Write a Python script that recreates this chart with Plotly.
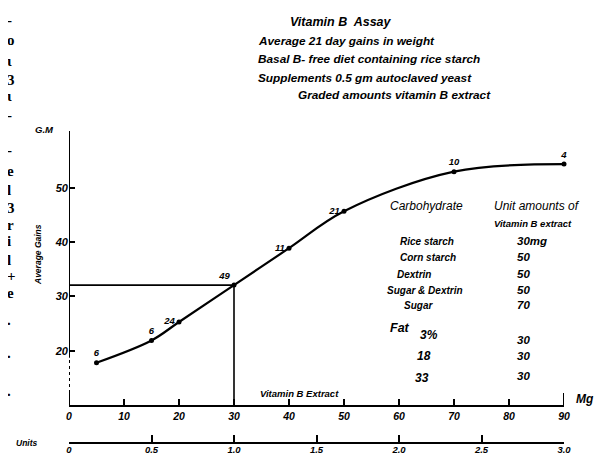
import plotly.graph_objects as go

# ---- data ----
vitamin_mg = [5, 15, 20, 30, 40, 50, 70, 90]
avg_gain_g = [17.8, 21.9, 25.3, 32.1, 38.9, 45.7, 53.0, 54.4]
rats_per_group = ["6", "6", "24", "49", "11", "21", "10", "4"]

mg_ticks = [0, 10, 20, 30, 40, 50, 60, 70, 80, 90]
unit_ticks = [0, 0.5, 1.0, 1.5, 2.0, 2.5, 3.0]
unit_labels = ["0", "0.5", "1.0", "1.5", "2.0", "2.5", "3.0"]
gain_ticks = [20, 30, 40, 50]

title_lines = [
    "Average 21 day gains in weight",
    "Basal B- free diet containing rice starch",
    "Supplements 0.5 gm autoclaved yeast",
]
subtitle_last = "Graded amounts vitamin B extract"

carbohydrates = ["Rice starch", "Corn starch", "Dextrin", "Sugar & Dextrin", "Sugar"]
carb_units = ["30mg", "50", "50", "50", "70"]
fat_levels = ["3%", "18", "33"]
fat_units = ["30", "30", "30"]

scan_edge_chars = ["-", "o", "ɩ", "3", "ɩ", "-", "-", "e", "l", "3", "r", "i", "l", "+", "e", ".", ".", "."]

# ---- layout geometry (pixels) ----
W, H = 606, 456
L, R, T, B = 61, 50, 123, 21
X_AX_PX = 397            # pixel row of the mg axis
Y_MIN, Y_MAX = 10, 60.5
X_MIN, X_MAX = 0, 90
plot_w = W - L - R
plot_h = H - T - B
dom_bottom = (H - B - X_AX_PX) / plot_h


def PX(px):
    return (px - L) / plot_w


def PY(py):
    return (H - B - py) / plot_h


FONT = "Liberation Sans, Arial, sans-serif"
SERIF = "Liberation Serif, DejaVu Serif, serif"

label_pos = ["top center", "top center", "middle left", "top left",
             "middle left", "middle left", "top center", "top center"]

fig = go.Figure()
fig.add_trace(go.Scatter(
    x=vitamin_mg, y=avg_gain_g, mode="lines+markers+text",
    line=dict(color="black", width=2.2, shape="spline", smoothing=1.0),
    marker=dict(color="black", size=5),
    text=rats_per_group, textposition=label_pos,
    textfont=dict(family=FONT, size=9.5, color="black"),
    texttemplate="<b><i>%{text}</i></b>",
    cliponaxis=False, showlegend=False, hoverinfo="skip",
))
# invisible trace to carry the units axis
fig.add_trace(go.Scatter(x=[unit_ticks[0], unit_ticks[-1]], y=[None, None],
                         xaxis="x2", yaxis="y", mode="markers",
                         showlegend=False, hoverinfo="skip"))

g30 = avg_gain_g[vitamin_mg.index(30)]
shapes = [
    dict(type="line", xref="x", yref="y", x0=0, x1=30, y0=g30, y1=g30,
         line=dict(color="black", width=1.6)),
    dict(type="line", xref="x", yref="y", x0=30, x1=30, y0=Y_MIN, y1=g30,
         line=dict(color="black", width=1.6)),
    # y axis: solid upper part, dotted lower part
    dict(type="line", xref="x", yref="y", x0=0, x1=0, y0=18.7, y1=Y_MAX,
         line=dict(color="black", width=2)),
    dict(type="line", xref="x", yref="y", x0=0, x1=0, y0=Y_MIN, y1=18.7,
         line=dict(color="black", width=2, dash="dot")),
    # taller end ticks on mg axis
    dict(type="line", xref="x", yref="y", x0=0, x1=0, y0=Y_MIN, y1=Y_MIN + 2.2,
         line=dict(color="black", width=2)),
    dict(type="line", xref="x", yref="y", x0=90, x1=90, y0=Y_MIN, y1=Y_MIN + 2.2,
         line=dict(color="black", width=2)),
]

ann = []


def txt(s, px, py, size=10.5, bold=True, italic=True, anchor="left", angle=0, family=FONT):
    t = s
    if italic:
        t = "<i>" + t + "</i>"
    if bold:
        t = "<b>" + t + "</b>"
    ann.append(dict(text=t, x=PX(px), y=PY(py), xref="paper", yref="paper", showarrow=False,
                    xanchor=anchor, yanchor="middle", textangle=angle,
                    font=dict(family=family, size=size, color="black")))


txt("Vitamin B  Assay", 280, 14, size=12.5)
for i, line in enumerate(title_lines):
    txt(line, 248, 33 + i * 18.5, size=11.8)
txt(subtitle_last, 288, 87, size=11.8)

txt("Carbohydrate", 380, 198, size=12, bold=False)
txt("Unit amounts of", 484, 198, size=12, bold=False)
txt("Vitamin B extract", 484, 215, size=9.5)
name_x = [390, 390, 387, 377, 394]
row_y = [233, 249, 266, 282, 297]
for n, u, nx, ry in zip(carbohydrates, carb_units, name_x, row_y):
    txt(n, nx, ry, size=10)
    txt(u, 507, ry, size=11.5)
txt("Fat", 380, 320, size=12.5)
fat_x = [410, 407, 405]
fat_ny = [327, 348, 370]
fat_uy = [332, 348, 368]
for f, u, fx, fy, uy in zip(fat_levels, fat_units, fat_x, fat_ny, fat_uy):
    txt(f, fx, fy, size=12)
    txt(u, 507, uy, size=11.5)

txt("Vitamin B Extract", 250, 385, size=9.5)
txt("Mg", 566, 391, size=12)
txt("Units", 6, H - B, size=8.5)
txt("G.M", 25, 121, size=9.5)
txt("Average Gains", 30, 247, size=8.5, anchor="center", angle=-90)

edge_y = [12, 32, 53, 72, 88, 107, 142, 163, 182, 200, 217, 233, 252, 268, 285, 312, 345, 383]
for ch, ey in zip(scan_edge_chars, edge_y):
    txt(ch, -3, ey, size=15, italic=False, family=SERIF)

fig.update_layout(
    width=W, height=H,
    margin=dict(l=L, r=R, t=T, b=B, autoexpand=False),
    paper_bgcolor="white", plot_bgcolor="white",
    shapes=shapes, annotations=ann,
    xaxis=dict(range=[X_MIN, X_MAX], tickvals=mg_ticks,
               ticktext=["<b><i>%d</i></b>" % v for v in mg_ticks],
               showline=True, linecolor="black", linewidth=2,
               ticks="inside", ticklen=6, tickwidth=1.6, tickcolor="black",
               showgrid=False, zeroline=False, anchor="y",
               tickfont=dict(family=FONT, size=10.5, color="black")),
    xaxis2=dict(range=[unit_ticks[0], unit_ticks[-1]], overlaying="x", anchor="free",
                position=0, side="bottom", tickvals=unit_ticks,
                ticktext=["<b><i>%s</i></b>" % s for s in unit_labels],
                showline=True, linecolor="black", linewidth=2,
                ticks="inside", ticklen=7, tickwidth=1.6, tickcolor="black",
                ticklabelstandoff=-2,
                showgrid=False, zeroline=False,
                tickfont=dict(family=FONT, size=9.5, color="black")),
    yaxis=dict(range=[Y_MIN, Y_MAX], domain=[dom_bottom, 1], tickvals=gain_ticks,
               ticktext=["<b><i>%d</i></b>" % v for v in gain_ticks],
               showline=False, ticks="inside", ticklen=6, tickwidth=2, tickcolor="black",
               showgrid=False, zeroline=False,
               tickfont=dict(family=FONT, size=11, color="black")),
)

fig.write_html("out.html")
